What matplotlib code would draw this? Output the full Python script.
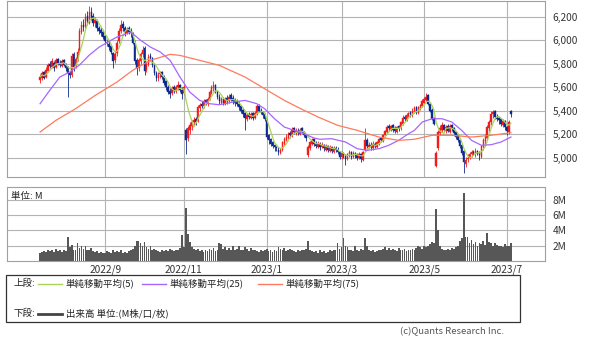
import matplotlib
matplotlib.use('Agg')
import matplotlib.pyplot as plt
from matplotlib.lines import Line2D
from matplotlib.patches import Rectangle
import numpy as np
import pandas as pd

plt.rcParams['font.family'] = ['Noto Sans CJK JP', 'DejaVu Sans']

# Jours feries de la bourse de Tokyo sur la periode
holidays = ['2022-07-18', '2022-08-11', '2022-09-19', '2022-09-23', '2022-10-10',
            '2022-11-03', '2022-11-23', '2023-01-02', '2023-01-03', '2023-01-09',
            '2023-02-23', '2023-03-21', '2023-05-03', '2023-05-04', '2023-05-05']

opens = [
    5660, 5680, 5730, 5690, 5740, 5800, 5770, 5810, 5770, 5840,
    5810, 5780, 5830, 5800, 5770, 5720, 5700, 5880, 5780, 5840,
    5910, 6070, 6130, 6120, 6210, 6150, 6240, 6210, 6150, 6160,
    6100, 6090, 6070, 6040, 5980, 5970, 5950, 5890, 5830, 5890,
    5990, 6080, 6140, 6100, 6060, 6100, 6080, 6060, 5980, 5830,
    5760, 5820, 5880, 5930, 5750, 5800, 5870, 5850, 5790, 5720,
    5680, 5710, 5730, 5690, 5650, 5600, 5570, 5550, 5600, 5570,
    5600, 5620, 5580, 5550, 5240, 5170, 5240, 5270, 5300, 5330,
    5310, 5420, 5460, 5440, 5490, 5460, 5500, 5550, 5590, 5620,
    5560, 5520, 5470, 5500, 5460, 5510, 5480, 5530, 5510, 5490,
    5480, 5460, 5440, 5410, 5380, 5330, 5370, 5340, 5380, 5340,
    5370, 5440, 5400, 5390, 5370, 5320, 5190, 5160, 5130, 5110,
    5090, 5070, 5040, 5070, 5120, 5150, 5170, 5210, 5190, 5250,
    5210, 5230, 5200, 5250, 5220, 5190, 5020, 5080, 5120, 5160,
    5120, 5090, 5120, 5090, 5110, 5070, 5100, 5060, 5090, 5050,
    5080, 5070, 5050, 5010, 5040, 5020, 4990, 5030, 5050, 5010,
    5040, 5020, 5000, 5030, 4980, 5070, 5150, 5090, 5110, 5080,
    5120, 5090, 5120, 5170, 5140, 5190, 5220, 5270, 5240, 5280,
    5250, 5220, 5270, 5250, 5290, 5350, 5320, 5350, 5390, 5360,
    5390, 5430, 5380, 5420, 5440, 5470, 5490, 5530, 5460, 5410,
    5340, 4930, 5080, 5210, 5240, 5280, 5230, 5270, 5220, 5280,
    5250, 5220, 5190, 5150, 5110, 5060, 4950, 4990, 5000, 5030,
    5050, 5030, 5060, 5040, 5010, 5090, 5140, 5170, 5250, 5300,
    5370, 5400, 5350, 5340, 5330, 5280, 5310, 5260, 5220, 5400,
]
highs = [
    5710, 5740, 5740, 5770, 5810, 5820, 5850, 5820, 5850, 5850,
    5830, 5840, 5840, 5810, 5780, 5740, 5890, 5900, 5860, 5930,
    6100, 6160, 6180, 6230, 6250, 6290, 6280, 6230, 6200, 6180,
    6120, 6110, 6090, 6050, 6010, 5990, 5960, 5900, 5900, 6000,
    6100, 6170, 6160, 6120, 6110, 6120, 6100, 6070, 6000, 5850,
    5850, 5900, 5950, 5950, 5820, 5880, 5890, 5860, 5800, 5740,
    5730, 5740, 5740, 5700, 5660, 5620, 5590, 5610, 5620, 5620,
    5650, 5630, 5600, 5620, 5250, 5270, 5300, 5320, 5350, 5350,
    5450, 5470, 5480, 5500, 5500, 5520, 5580, 5620, 5650, 5630,
    5580, 5540, 5520, 5520, 5520, 5530, 5540, 5550, 5530, 5510,
    5500, 5480, 5450, 5420, 5390, 5380, 5390, 5390, 5390, 5400,
    5460, 5460, 5420, 5400, 5380, 5330, 5200, 5170, 5140, 5120,
    5100, 5090, 5080, 5140, 5180, 5200, 5220, 5230, 5260, 5260,
    5250, 5250, 5250, 5260, 5230, 5200, 5110, 5140, 5170, 5170,
    5140, 5140, 5130, 5130, 5120, 5120, 5110, 5110, 5100, 5100,
    5100, 5090, 5060, 5060, 5050, 5030, 5040, 5070, 5060, 5060,
    5050, 5040, 5050, 5040, 5060, 5250, 5170, 5130, 5130, 5140,
    5130, 5140, 5170, 5180, 5200, 5240, 5280, 5290, 5280, 5290,
    5270, 5270, 5280, 5310, 5360, 5360, 5380, 5390, 5400, 5420,
    5440, 5440, 5440, 5460, 5500, 5520, 5550, 5540, 5470, 5420,
    5350, 5060, 5240, 5280, 5300, 5290, 5280, 5290, 5290, 5290,
    5260, 5230, 5200, 5160, 5120, 5070, 5010, 5030, 5050, 5070,
    5070, 5080, 5070, 5060, 5110, 5170, 5200, 5280, 5320, 5400,
    5410, 5410, 5370, 5350, 5340, 5330, 5320, 5270, 5320, 5410,
]
lows = [
    5640, 5660, 5670, 5680, 5730, 5760, 5760, 5740, 5760, 5790,
    5770, 5770, 5780, 5740, 5520, 5680, 5690, 5740, 5760, 5820,
    5900, 6050, 6080, 6100, 6130, 6140, 6170, 6120, 6110, 6080,
    6050, 6040, 6010, 5970, 5950, 5920, 5880, 5760, 5810, 5870,
    5980, 6060, 6080, 6040, 6050, 6050, 6030, 5970, 5800, 5700,
    5740, 5800, 5860, 5700, 5730, 5780, 5820, 5770, 5700, 5650,
    5650, 5680, 5670, 5620, 5580, 5540, 5510, 5530, 5550, 5550,
    5580, 5560, 5500, 5530, 5030, 5140, 5200, 5240, 5280, 5280,
    5300, 5400, 5420, 5420, 5450, 5440, 5490, 5540, 5570, 5550,
    5500, 5460, 5460, 5450, 5450, 5460, 5470, 5480, 5460, 5440,
    5440, 5410, 5380, 5350, 5240, 5310, 5330, 5330, 5320, 5330,
    5360, 5390, 5370, 5340, 5310, 5160, 5120, 5100, 5080, 5060,
    5060, 5020, 5030, 5060, 5110, 5140, 5160, 5170, 5180, 5200,
    5190, 5190, 5190, 5210, 5180, 5140, 5010, 5070, 5110, 5100,
    5080, 5080, 5070, 5080, 5060, 5060, 5050, 5050, 5040, 5040,
    5050, 5030, 4990, 4990, 5000, 4940, 4980, 5010, 4990, 5000,
    5000, 4980, 4990, 4960, 4970, 5060, 5080, 5080, 5070, 5070,
    5080, 5080, 5110, 5130, 5130, 5180, 5210, 5230, 5230, 5220,
    5210, 5210, 5230, 5240, 5280, 5310, 5310, 5340, 5350, 5350,
    5380, 5370, 5370, 5410, 5430, 5460, 5480, 5450, 5390, 5320,
    5280, 4920, 5070, 5190, 5220, 5220, 5210, 5220, 5210, 5230,
    5200, 5160, 5130, 5080, 5020, 4870, 4920, 4960, 4990, 5010,
    5020, 5010, 5020, 4980, 5000, 5070, 5120, 5150, 5230, 5280,
    5340, 5330, 5310, 5290, 5270, 5260, 5240, 5190, 5200, 5350,
]
closes = [
    5690, 5720, 5680, 5750, 5790, 5780, 5820, 5760, 5830, 5810,
    5790, 5820, 5790, 5760, 5720, 5700, 5870, 5770, 5840, 5900,
    6080, 6130, 6110, 6200, 6160, 6240, 6200, 6150, 6170, 6100,
    6080, 6060, 6030, 5990, 5980, 5940, 5900, 5820, 5880, 5980,
    6080, 6130, 6100, 6070, 6090, 6070, 6060, 5980, 5820, 5760,
    5830, 5880, 5920, 5740, 5800, 5860, 5850, 5790, 5720, 5680,
    5700, 5720, 5690, 5640, 5600, 5560, 5540, 5590, 5570, 5600,
    5620, 5580, 5540, 5600, 5150, 5250, 5280, 5300, 5320, 5300,
    5430, 5450, 5440, 5480, 5470, 5500, 5560, 5600, 5620, 5560,
    5520, 5480, 5500, 5470, 5500, 5480, 5520, 5500, 5480, 5470,
    5460, 5430, 5400, 5370, 5340, 5360, 5350, 5370, 5340, 5380,
    5440, 5400, 5390, 5360, 5330, 5180, 5150, 5120, 5100, 5090,
    5080, 5050, 5070, 5130, 5160, 5180, 5200, 5190, 5240, 5220,
    5230, 5210, 5240, 5220, 5190, 5170, 5090, 5130, 5150, 5120,
    5100, 5120, 5090, 5110, 5080, 5100, 5070, 5090, 5060, 5080,
    5070, 5050, 5010, 5040, 5020, 4990, 5030, 5050, 5010, 5040,
    5020, 5000, 5030, 4990, 5050, 5150, 5100, 5110, 5090, 5120,
    5100, 5130, 5160, 5150, 5190, 5230, 5260, 5250, 5270, 5240,
    5230, 5260, 5250, 5300, 5340, 5330, 5360, 5380, 5370, 5400,
    5420, 5380, 5430, 5450, 5480, 5500, 5520, 5460, 5400, 5330,
    5290, 5040, 5220, 5250, 5280, 5240, 5260, 5230, 5270, 5250,
    5210, 5180, 5150, 5100, 5040, 4960, 4980, 5000, 5030, 5050,
    5040, 5060, 5030, 5020, 5100, 5150, 5180, 5260, 5300, 5370,
    5390, 5350, 5330, 5320, 5290, 5310, 5260, 5230, 5300, 5370,
]
# Volume en millions
volumes = [
    1.1, 1.2, 1.3, 1.2, 1.4, 1.3, 1.5, 1.2, 1.6, 1.3,
    1.4, 1.2, 1.5, 1.3, 3.1, 1.8, 2.1, 1.5, 1.4, 2.3,
    1.7, 2.0, 1.6, 1.9, 1.5, 1.4, 1.7, 1.3, 1.2, 1.3,
    1.1, 1.2, 1.0, 1.1, 1.3, 1.2, 1.1, 1.4, 1.2, 1.3,
    1.2, 1.4, 1.1, 1.2, 1.0, 1.3, 1.4, 1.6, 1.9, 2.6,
    2.6, 2.3, 1.9, 2.5, 1.8, 1.6, 1.9, 1.5, 1.6, 1.4,
    1.3, 1.2, 1.4, 1.3, 1.5, 1.3, 1.6, 1.4, 1.3, 1.5,
    1.4, 1.7, 3.4, 1.8, 6.9, 3.5, 2.5, 1.8, 1.6, 1.4,
    1.6, 1.3, 1.4, 1.2, 1.5, 1.3, 1.6, 1.4, 1.7, 1.3,
    1.5, 2.3, 2.2, 1.6, 1.8, 1.4, 1.7, 1.5, 1.9, 1.4,
    1.6, 2.0, 1.5, 1.4, 1.8, 1.6, 1.3, 1.7, 1.4, 1.5,
    1.3, 1.2, 1.4, 1.3, 1.5, 1.6, 1.3, 1.4, 1.2, 1.5,
    1.3, 1.8, 1.6, 1.4, 1.7, 1.3, 1.5, 1.6, 1.4, 1.3,
    1.2, 1.4, 1.3, 1.5, 1.4, 1.6, 2.6, 1.5, 1.3, 1.2,
    1.3, 1.1, 1.4, 1.2, 1.3, 1.1, 1.2, 1.4, 1.3, 1.5,
    1.4, 2.3, 1.6, 1.8, 3.0, 1.9, 1.8, 1.4, 1.5, 1.3,
    2.0, 1.4, 1.3, 1.6, 1.5, 3.0, 2.0, 1.5, 1.3, 1.4,
    1.2, 1.3, 1.5, 1.4, 1.6, 1.8, 1.5, 1.7, 1.4, 1.6,
    1.5, 1.3, 1.7, 1.5, 1.4, 1.6, 1.3, 1.5, 1.4, 1.6,
    1.5, 1.7, 2.0, 1.8, 1.6, 2.0, 1.8, 1.9, 2.2, 2.5,
    2.3, 6.8, 4.0, 2.0, 1.6, 1.5, 1.4, 1.6, 1.5, 1.7,
    1.6, 1.8, 2.0, 2.6, 3.0, 8.9, 3.1, 3.2, 2.4, 2.8,
    2.2, 2.5, 2.0, 2.4, 2.2, 2.6, 2.1, 3.7, 2.5, 2.3,
    2.0, 2.4, 2.1, 1.9, 2.0, 1.8, 2.2, 2.0, 1.9, 2.3,
]

# Moyennes mobiles 25 et 75 jours (indice du jour, valeur)
ma25_days = [0, 5, 10, 15, 20, 25, 30, 36, 39, 44, 46, 51, 56, 61, 66, 71, 76, 81, 86, 91,
             98, 104, 110, 114, 119, 124, 129, 134, 139, 142, 148, 155, 161, 166, 172, 177,
             182, 187, 190, 194, 199, 204, 209, 214, 219, 224, 229, 234, 239]
ma25 = [5460, 5576, 5687, 5729, 5789, 5874, 5942, 6000, 6027, 6055, 6070, 6000, 5942, 5900,
        5829, 5687, 5559, 5488, 5460, 5451, 5474, 5488, 5460, 5417, 5332, 5261, 5233, 5204,
        5168, 5157, 5162, 5134, 5077, 5063, 5077, 5106, 5148, 5204, 5233, 5304, 5332, 5332,
        5304, 5233, 5148, 5106, 5111, 5134, 5176]
ma75_days = [0, 8, 18, 28, 39, 47, 56, 66, 71, 81, 91, 104, 114, 124, 134, 142, 151, 161,
             172, 182, 190, 199, 209, 219, 229, 239]
ma75 = [5219, 5318, 5417, 5531, 5644, 5744, 5829, 5880, 5871, 5829, 5786, 5687, 5587, 5488,
        5403, 5340, 5276, 5233, 5176, 5148, 5157, 5191, 5191, 5176, 5191, 5213]

price_ticks = [5000, 5200, 5400, 5600, 5800, 6000, 6200]
vol_ticks = [2, 4, 6, 8]

RED = '#f21c1c'
BLUE = '#0c2a8f'
GREEN = '#a9d45a'
PURPLE = '#a566ff'
SALMON = '#ff7a5c'
GRID = '#b4b4b4'

dates = pd.bdate_range('2022-07-14', '2023-07-05', freq='C', holidays=holidays)
o = np.array(opens)
h = np.array(highs)
l = np.array(lows)
c = np.array(closes)
x = np.arange(len(c))

# Premiers jours des mois impairs pour l'axe des x
months = dates.month
tick_pos = [i for i in range(1, len(dates)) if months[i] != months[i - 1] and months[i] % 2 == 1]
tick_lab = [f'{dates[i].year}/{dates[i].month}' for i in tick_pos]

fig = plt.figure(figsize=(6, 3.43), dpi=100)
W, H = 600, 343
ax1 = fig.add_axes([7 / W, 1 - 177 / H, 538 / W, 176 / H])
ax2 = fig.add_axes([7 / W, 1 - 261 / H, 538 / W, 74 / H])

# Chandeliers
colors = np.where(c >= o, RED, BLUE)
ax1.vlines(x, l, h, colors=colors, linewidth=0.6, zorder=3)
ax1.bar(x, np.maximum(np.abs(c - o), 4), bottom=np.minimum(o, c), width=0.8,
        color=colors, edgecolor=colors, linewidth=0.3, zorder=3)

ma5 = pd.Series(c).rolling(5, min_periods=1).mean()
ax1.plot(x, ma5, color=GREEN, linewidth=0.9, zorder=4)
ax1.plot(ma25_days, ma25, color=PURPLE, linewidth=0.9, zorder=4)
ax1.plot(ma75_days, ma75, color=SALMON, linewidth=0.9, zorder=4)

ax1.set_ylim(4836, 6334)
ax1.set_yticks(price_ticks)
ax1.set_yticklabels([f'{v:,}' for v in price_ticks])

# Volume
ax2.bar(x, volumes, width=0.9, color='#575757', linewidth=0, zorder=3)
ax2.set_ylim(0, 9.67)
ax2.set_yticks(vol_ticks)
ax2.set_yticklabels([f'{v}M' for v in vol_ticks])
ax2.text(0.008, 0.93, '単位: M', transform=ax2.transAxes, fontsize=6.8,
         va='top', ha='left', color='#222222')

for ax in (ax1, ax2):
    ax.set_xlim(-16.8, 256.3)
    ax.set_xticks(tick_pos)
    ax.yaxis.tick_right()
    ax.tick_params(axis='y', length=0, pad=5.5, labelsize=7.3, labelcolor='#333333')
    ax.tick_params(axis='x', length=0, pad=2.5, labelsize=7.3, labelcolor='#333333')
    ax.grid(True, color=GRID, linewidth=0.8, zorder=0)
    ax.set_axisbelow(True)
    for s in ax.spines.values():
        s.set_color('#a0a0a0')
        s.set_linewidth(0.8)
ax1.set_xticklabels([])
ax2.set_xticklabels(tick_lab)

# Legende en bas
fig.patches.append(Rectangle((6 / W, 1 - 322 / H), 514 / W, 47 / H, transform=fig.transFigure,
                             fill=False, edgecolor='#333333', linewidth=0.9))
y1 = 1 - 283.5 / H
y2 = 1 - 313.5 / H
fs = 6.8
fig.text(13 / W, y1, '上段:', fontsize=fs, va='center', color='#222222')
for x0, col, lab in [(38, GREEN, '単純移動平均(5)'), (142, PURPLE, '単純移動平均(25)'),
                     (258, SALMON, '単純移動平均(75)')]:
    fig.lines.append(Line2D([x0 / W, (x0 + 24) / W], [y1, y1], transform=fig.transFigure,
                            color=col, linewidth=1.0))
    fig.text((x0 + 28) / W, y1, lab, fontsize=fs, va='center', color='#222222')
fig.text(13 / W, y2, '下段:', fontsize=fs, va='center', color='#222222')
fig.lines.append(Line2D([38 / W, 62 / W], [y2, y2], transform=fig.transFigure,
                        color='#444444', linewidth=2.0))
fig.text(66 / W, y2, '出来高 単位:(M株/口/枚)', fontsize=fs, va='center', color='#222222')
fig.text(504 / W, 1 - 332 / H, '(c)Quants Research Inc.', fontsize=6.8, ha='right',
         va='center', color='#555555')

fig.savefig('out.png', dpi=100)
